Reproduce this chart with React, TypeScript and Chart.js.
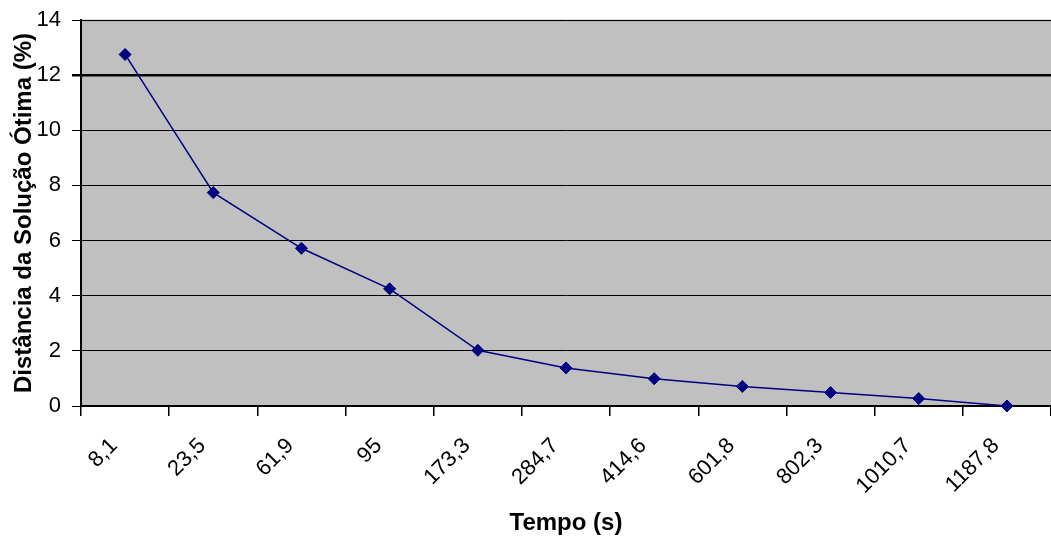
import React, { useEffect, useRef } from "react";
import { Chart, registerables } from "chart.js";

Chart.register(...registerables);

// Tempo de execução (s) e distância à solução ótima (%)
const tempos = ["8,1", "23,5", "61,9", "95", "173,3", "284,7", "414,6", "601,8", "802,3", "1010,7", "1187,8"];
const distancias = [12.75, 7.74, 5.72, 4.25, 2.02, 1.38, 0.99, 0.71, 0.49, 0.27, 0];
const yMin = 0;
const yMax = 14;
const yStep = 2;

const FONT = "'Liberation Sans', Arial, sans-serif";

// Fundo cinza da área de plotagem e borda superior
const plotBackground = {
  id: "plotBackground",
  beforeDraw(chart: any) {
    const { ctx, chartArea } = chart;
    ctx.save();
    ctx.fillStyle = "#C0C0C0";
    ctx.fillRect(chartArea.left, chartArea.top, chartArea.right - chartArea.left, chartArea.bottom - chartArea.top);
    ctx.strokeStyle = "#808080";
    ctx.lineWidth = 1.5;
    ctx.beginPath();
    ctx.moveTo(chartArea.left, chartArea.top + 0.5);
    ctx.lineTo(chartArea.right, chartArea.top + 0.5);
    ctx.stroke();
    ctx.restore();
  },
};

export default function App() {
  const canvasRef = useRef<HTMLCanvasElement | null>(null);

  useEffect(() => {
    if (!canvasRef.current) return;
    const chart = new Chart(canvasRef.current, {
      type: "line",
      data: {
        labels: tempos,
        datasets: [
          {
            data: distancias,
            borderColor: "#000080",
            backgroundColor: "#000080",
            borderWidth: 1.5,
            pointStyle: "rectRot",
            pointRadius: 6,
            pointBorderWidth: 1,
            pointBackgroundColor: "#000080",
            pointBorderColor: "#000080",
            tension: 0,
            clip: false,
          },
        ],
      },
      options: {
        animation: false,
        responsive: false,
        maintainAspectRatio: false,
        layout: { autoPadding: false, padding: { top: 20, right: 0, left: 0, bottom: 0 } },
        plugins: {
          legend: { display: false },
          tooltip: { enabled: false },
        },
        scales: {
          x: {
            type: "category",
            offset: true,
            grid: {
              offset: true,
              drawOnChartArea: false,
              drawTicks: true,
              tickLength: 10,
              color: "#000",
              lineWidth: 1.5,
            },
            border: { color: "#000", width: 2 },
            ticks: {
              minRotation: 45,
              maxRotation: 45,
              autoSkip: false,
              padding: 17,
              labelOffset: -11,
              color: "#000",
              font: { family: FONT, size: 22 },
            },
            title: {
              display: true,
              text: "Tempo (s)",
              color: "#000",
              font: { family: FONT, size: 24, weight: "bold" },
              padding: { top: 0, bottom: 1 },
            },
            afterFit(scale: any) {
              scale.height = 133;
              scale.paddingLeft = 0;
              scale.paddingRight = 0;
            },
          },
          y: {
            min: yMin,
            max: yMax,
            grid: {
              color: "#000",
              lineWidth: (c: any) => (c.tick && c.tick.value === 12 ? 2.5 : 1),
              drawTicks: true,
              tickLength: 9,
            },
            border: { color: "#000", width: 2 },
            ticks: {
              stepSize: yStep,
              padding: 11,
              color: "#000",
              font: { family: FONT, size: 22 },
            },
            title: {
              display: true,
              text: "Distância da Solução Ótima (%)",
              color: "#000",
              font: { family: FONT, size: 24, weight: "bold" },
              padding: { top: 10, bottom: 0 },
            },
            afterFit(scale: any) {
              scale.width = 81;
              scale.paddingTop = 0;
              scale.paddingBottom = 0;
            },
          },
        },
      },
      plugins: [plotBackground],
    });
    return () => chart.destroy();
  }, []);

  return (
    <div style={{ position: "fixed", left: 0, top: 0, width: 1051, height: 539, background: "#fff" }}>
      <canvas ref={canvasRef} width={1051} height={539} style={{ width: 1051, height: 539, display: "block" }} />
    </div>
  );
}
